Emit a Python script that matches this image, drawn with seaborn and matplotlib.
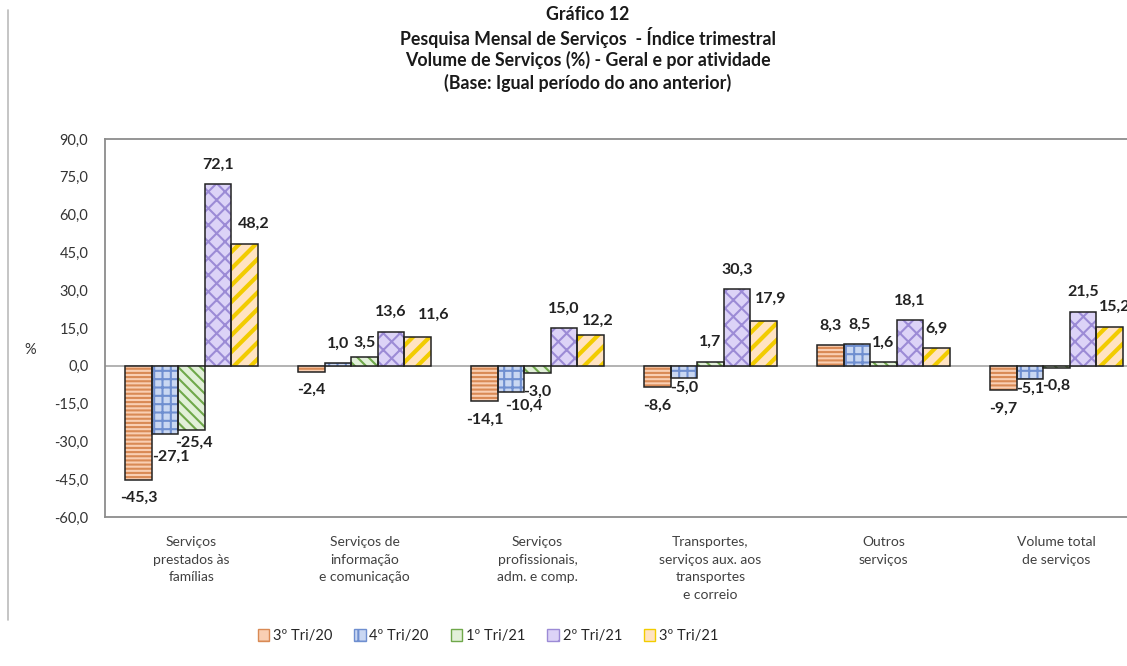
import matplotlib
matplotlib.use("Agg")
import matplotlib.pyplot as plt
import seaborn as sns
import pandas as pd
from matplotlib.lines import Line2D
from matplotlib.patches import Patch, Rectangle

# dados
categorias = ["Serviços\nprestados às\nfamílias",
              "Serviços de\ninformação\ne comunicação",
              "Serviços\nprofissionais,\nadm. e comp.",
              "Transportes,\nserviços aux. aos\ntransportes\ne correio",
              "Outros\nserviços",
              "Volume total\nde serviços"]
periodos = ["3º Tri/20", "4º Tri/20", "1º Tri/21", "2º Tri/21", "3º Tri/21"]
tri3_20 = [-45.3, -2.4, -14.1, -8.6, 8.3, -9.7]
tri4_20 = [-27.1, 1.0, -10.4, -5.0, 8.5, -5.1]
tri1_21 = [-25.4, 3.5, -3.0, 1.7, 1.6, -0.8]
tri2_21 = [72.1, 13.6, 15.0, 30.3, 18.1, 21.5]
tri3_21 = [48.2, 11.6, 12.2, 17.9, 6.9, 15.2]
series = [tri3_20, tri4_20, tri1_21, tri2_21, tri3_21]
y_ticks = [90, 75, 60, 45, 30, 15, 0, -15, -30, -45, -60]

# estilo
fill_cores = ["#F9CFB3", "#C9D7F2", "#E2F0D9", "#DCD3F7", "#FFE3C2"]
hatch_cores = ["#D98A55", "#6F8FD0", "#6FA84A", "#9C8BD6", "#F2CC00"]
hatches = ["----", "++", "\\\\\\", "xx", "//"]

df = pd.DataFrame({
    "categoria": [c for s in series for c in categorias],
    "periodo": [p for p, s in zip(periodos, series) for _ in s],
    "valor": [v for s in series for v in s],
})

sns.set_style("white")
plt.rcParams["font.family"] = ["Lato", "DejaVu Sans"]
plt.rcParams["hatch.linewidth"] = 1.5

fig = plt.figure(figsize=(11.27, 6.66), dpi=100)
ax = fig.add_axes([105 / 1127, 149 / 666, (1143 - 105) / 1127, 378 / 666])

sns.barplot(data=df, x="categoria", y="valor", hue="periodo", order=categorias,
            hue_order=periodos, palette=fill_cores, width=0.765, ax=ax,
            legend=False, linewidth=0, saturation=1)

# hachuras coloridas + contorno escuro por cima
for i, cont in enumerate(ax.containers):
    for bar in cont:
        bar.set_hatch(hatches[i])
        bar.set_edgecolor(hatch_cores[i])
        bar.set_linewidth(0)
        if i == 4 and hasattr(bar, "set_hatch_linewidth"):
            bar.set_hatch_linewidth(3)
        ax.add_patch(Rectangle((bar.get_x(), bar.get_y()), bar.get_width(), bar.get_height(),
                               fill=False, edgecolor="#222222", lw=1.1, zorder=bar.get_zorder() + 0.1))

# rótulos de dados
ajustes = {(0, 1): (4, -16), (0, 2): (2, -9), (0, 4): (7, 15), (1, 2): (0, 10),
           (1, 4): (12, 16), (2, 1): (9, -10), (2, 4): (5, 10), (3, 1): (0, -7),
           (3, 4): (5, 16), (4, 1): (2, 14), (5, 1): (0, -7), (5, 4): (4, 15)}
for i, cont in enumerate(ax.containers):
    for j, bar in enumerate(cont):
        v = series[i][j]
        x = bar.get_x() + bar.get_width() / 2
        dx, dy = ajustes.get((j, i), (0, 14 if v >= 0 else -13))
        ax.annotate(f"{v:.1f}".replace(".", ","), (x, v), xytext=(dx, dy),
                    textcoords="offset points", ha="center", va="center",
                    fontsize=11.5, fontweight="bold", color="#222222")

ax.axhline(0, color="#A6A6A6", lw=1.2, zorder=0)
ax.set_ylim(-60, 90)
ax.set_xlim(-0.5, 5.5)
ax.set_yticks(y_ticks)
ax.set_yticklabels([f"{t:.1f}".replace(".", ",") for t in y_ticks], fontsize=10.5, color="#333333")
ax.tick_params(axis="y", length=0, pad=12)
ax.tick_params(axis="x", length=0, pad=14, labelsize=10, colors="#404040")
for lab in ax.get_xticklabels():
    lab.set_linespacing(1.55)
ax.set_xlabel("")
ax.set_ylabel("")
for s in ax.spines.values():
    s.set_color("#8C8C8C")
    s.set_linewidth(1.3)

# títulos
titulo = ["Gráfico 12", "Pesquisa Mensal de Serviços  - Índice trimestral",
          "Volume de Serviços (%) - Geral e por atividade",
          "(Base: Igual período do ano anterior)"]
for k, linha in enumerate(titulo):
    fig.text(588 / 1127, 1 - (14 + 23 * k) / 666, linha, ha="center", va="center",
             fontsize=12.8, fontweight="bold", color="#1a1a1a")

fig.text(30 / 1127, 1 - 350 / 666, "%", ha="center", va="center", fontsize=10.5, color="#333333")
fig.add_artist(Line2D([8 / 1127, 8 / 1127], [1 - 10 / 666, 1 - 620 / 666],
                      color="#BBBBBB", lw=1.2))

# legenda
handles = [Patch(facecolor=fill_cores[i], edgecolor=hatch_cores[i], hatch=hatches[i][:1])
           for i in range(5)]
fig.legend(handles, periodos, loc="center", bbox_to_anchor=(488 / 1127, 1 - 636 / 666),
           ncol=5, frameon=False, fontsize=10.5, handlelength=0.8, handleheight=0.8,
           handletextpad=0.25, columnspacing=1.5)

fig.savefig("out.png", dpi=100)
